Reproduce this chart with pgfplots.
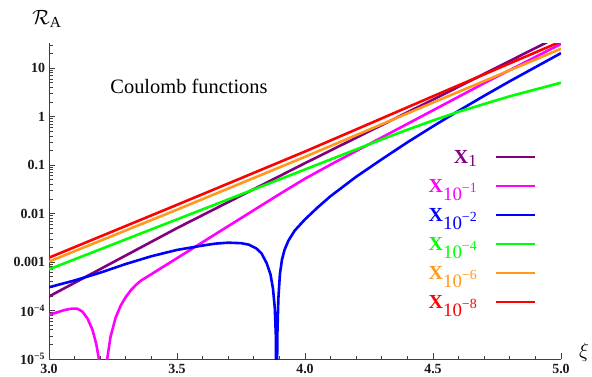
\documentclass[border=0pt]{standalone}
\usepackage{pgfplots}
\pgfplotsset{compat=1.18}
\usepackage{fontspec}
\setmainfont{Liberation Serif}
\definecolor{cpurple}{rgb}{0.5,0,0.5}
\definecolor{cmagenta}{rgb}{1,0,1}
\definecolor{cblue}{rgb}{0,0,1}
\definecolor{cgreen}{rgb}{0,1,0}
\definecolor{corange}{rgb}{1,0.6,0.1}
\definecolor{cred}{rgb}{1,0,0}
\newcommand{\LXone}{\textbf{X}\raisebox{-3bp}{\fontsize{17}{17}\selectfont 1}}
\newcommand{\LX}[1]{\textbf{X}\raisebox{-8bp}{\fontsize{19}{19}\selectfont 10\raisebox{8bp}{\fontsize{14}{14}\selectfont −#1}}}
\begin{document}
\begin{tikzpicture}
\useasboundingbox (0,0) rectangle (592bp,377bp);
\begin{axis}[
  at={(49bp,18bp)}, anchor=south west,
  scale only axis, width=512bp, height=316bp,
  xmin=3, xmax=5, ymin=1e-5, ymax=33,
  ymode=log,
  axis lines*=left,
  axis line style={black!75, line width=0.8pt},
  tick style={black!75, line width=0.7pt},
  major tick length=6bp, minor tick length=3.5bp,
  tick align=inside,
  xtick={3,3.5,4,4.5,5},
  xticklabels={3.0,3.5,4.0,4.5,5.0},
  minor xtick={3.1,3.2,3.3,3.4,3.6,3.7,3.8,3.9,4.1,4.2,4.3,4.4,4.6,4.7,4.8,4.9},
  ytick={1e-5,1e-4,0.001,0.01,0.1,1,10},
  yticklabels={10\textsuperscript{−5},10\textsuperscript{−4},0.001,0.01,0.1,1,10},
  minor ytick={2e-5,3e-5,4e-5,5e-5,6e-5,7e-5,8e-5,9e-5,
               2e-4,3e-4,4e-4,5e-4,6e-4,7e-4,8e-4,9e-4,
               0.002,0.003,0.004,0.005,0.006,0.007,0.008,0.009,
               0.02,0.03,0.04,0.05,0.06,0.07,0.08,0.09,
               0.2,0.3,0.4,0.5,0.6,0.7,0.8,0.9,
               2,3,4,5,6,7,8,9,20,30},
  tick label style={font=\fontsize{14}{14}\selectfont\bfseries, text=black!90},
  xticklabel style={yshift=-1.5bp},
  yticklabel style={xshift=-0.5bp},
  /pgf/number format/assume math mode=true,
  legend plot pos=right,
  legend cell align=right,
  legend style={draw=none, fill=none, inner sep=0pt, outer sep=0pt,
    at={(0.9512,0.663)}, anchor=north east,
    row sep=6bp,
    font=\fontsize{20}{20}\selectfont,
    nodes={inner sep=0pt, text height=14bp, text depth=9bp},
    /tikz/every odd column/.append style={column sep=19bp}},
  legend image code/.code={\draw[#1, line width=1.2pt] (0bp,4bp) -- (39bp,4bp);},
  every axis plot/.append style={line width=2.6pt, line join=round},
]
\addplot[cpurple] coordinates {(3.0,1.950e-4) (3.5,5.01e-3) (4.0,0.1096) (4.5,2.24) (5.0,47.9)};
\addlegendentry{\textcolor{cpurple}{\LXone}}
\addplot[cmagenta] coordinates {
(3.00,8.13e-5) (3.03,9.12e-5) (3.06,1.023e-4) (3.09,1.096e-4) (3.11,1.096e-4)
(3.13,9.55e-5) (3.15,6.92e-5) (3.17,3.98e-5) (3.185,2.00e-5) (3.198,7.94e-6)
(3.206,2.51e-6) (3.212,3.16e-7) (3.218,2.51e-6) (3.226,8.91e-6) (3.24,2.82e-5)
(3.26,7.08e-5) (3.28,1.259e-4) (3.30,1.905e-4) (3.32,2.63e-4) (3.34,3.39e-4)
(3.36,4.17e-4) (3.40,5.62e-4) (3.50,1.202e-3) (3.60,2.57e-3) (3.70,5.50e-3)
(3.80,1.175e-2) (3.90,2.51e-2) (4.00,5.25e-2) (4.10,0.1023) (4.20,0.195)
(4.30,0.372) (4.40,0.708) (4.50,1.349) (4.60,2.57) (4.70,4.90) (4.80,9.12)
(4.90,17.0) (5.00,31.6)};
\addlegendentry{\textcolor{cmagenta}{\LX{1}}}
\addplot[cblue] coordinates {
(3.00,3.02e-4) (3.10,4.17e-4) (3.20,6.03e-4) (3.30,9.12e-4) (3.40,1.318e-3)
(3.50,1.778e-3) (3.60,2.19e-3) (3.65,2.40e-3) (3.70,2.51e-3) (3.75,2.45e-3)
(3.78,2.29e-3) (3.81,1.905e-3) (3.83,1.514e-3) (3.85,9.55e-4) (3.865,5.62e-4)
(3.875,2.82e-4) (3.882,1.122e-4) (3.886,3.16e-5) (3.889,3.16e-7) (3.892,3.16e-5)
(3.896,1.778e-4) (3.902,5.62e-4) (3.91,1.122e-3) (3.92,1.778e-3) (3.935,2.75e-3)
(3.96,4.47e-3) (4.00,7.59e-3) (4.05,1.349e-2) (4.10,2.29e-2) (4.20,5.75e-2)
(4.30,0.1318) (4.40,0.295) (4.50,0.631) (4.60,1.318) (4.70,2.69) (4.80,5.37)
(4.90,10.47) (5.00,20.4)};
\addlegendentry{\textcolor{cblue}{\LX{2}}}
\addplot[cgreen] coordinates {
(3.00,7.08e-4) (3.50,7.59e-3) (4.00,8.13e-2) (4.30,0.339) (4.40,0.537)
(4.50,0.832) (4.60,1.259) (4.70,1.820) (4.80,2.63) (4.90,3.63) (5.00,5.01)};
\addlegendentry{\textcolor{cgreen}{\LX{4}}}
\addplot[corange] coordinates {(3.0,1.023e-3) (3.5,1.202e-2) (4.0,0.148) (4.5,1.950) (5.0,25.1)};
\addlegendentry{\textcolor{corange}{\LX{6}}}
\addplot[cred] coordinates {(3.0,1.230e-3) (3.5,1.514e-2) (4.0,0.1905) (4.5,2.63) (5.0,35.5)};
\addlegendentry{\textcolor{cred}{\LX{8}}}
\end{axis}
\node[font=\fontsize{20.5}{20.5}\selectfont] at (189bp,291bp) {Coulomb functions};
\node[font=\fontsize{22}{22}\selectfont] at (47bp,358bp) {$\mathcal{R}_{\mathrm{A}}$};
\node[font=\fontsize{22}{22}\selectfont] at (584bp,25bp) {$\xi$};
\end{tikzpicture}
\end{document}
